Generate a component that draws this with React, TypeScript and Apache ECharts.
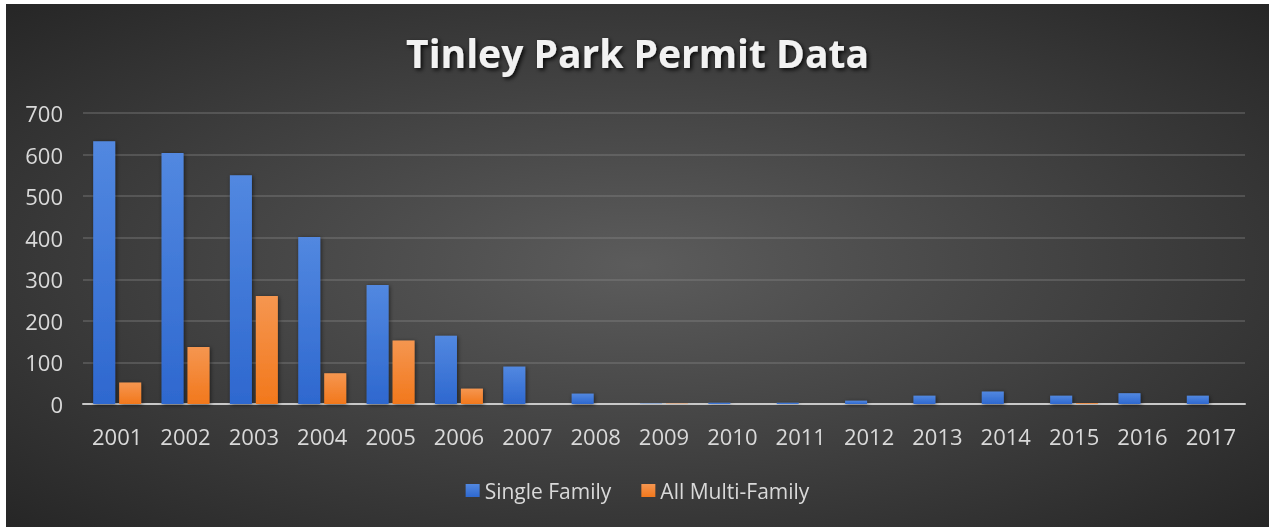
import React, { useEffect, useRef } from "react";
import * as echarts from "echarts";

const years = ["2001","2002","2003","2004","2005","2006","2007","2008","2009","2010","2011","2012","2013","2014","2015","2016","2017"];
const singleFamily = [632, 604, 550, 402, 286, 164, 90, 25, 1, 3, 3, 8, 20, 30, 20, 26, 20];
const multiFamily = [52, 137, 260, 74, 153, 37, 0, 0, 1, 0, 0, 0, 0, 0, 2, 0, 0];
const yTicks = { min: 0, max: 700, interval: 100 };

const FONT = "'Open Sans', 'Noto Sans', sans-serif";

export default function App() {
  const ref = useRef<HTMLDivElement>(null);
  useEffect(() => {
    const chart = echarts.init(ref.current!, null, { renderer: "svg" });
    const barShadow = { shadowBlur: 4, shadowColor: "rgba(0,0,0,0.55)", shadowOffsetX: 1, shadowOffsetY: 1 };
    chart.setOption({
      animation: false,
      backgroundColor: "transparent",
      title: {
        text: "Tinley Park Permit Data",
        left: "center",
        top: 24,
        textStyle: {
          color: "#f2f2f2",
          fontFamily: FONT,
          fontSize: 39,
          fontWeight: 700,
          textShadowColor: "rgba(0,0,0,0.85)",
          textShadowBlur: 4,
          textShadowOffsetX: 2,
          textShadowOffsetY: 2,
        },
      },
      legend: {
        bottom: 21,
        left: "center",
        itemWidth: 14,
        itemHeight: 13,
        itemGap: 30,
        icon: "rect",
        textStyle: { color: "#d9d9d9", fontFamily: FONT, fontSize: 21 },
        data: ["Single Family", "All Multi-Family"],
      },
      grid: { left: 77, right: 24, top: 109, bottom: 123, containLabel: false },
      xAxis: {
        type: "category",
        data: years,
        axisLine: { lineStyle: { color: "#c8c8c8", width: 2 } },
        axisTick: { show: false },
        axisLabel: { color: "#d9d9d9", fontFamily: FONT, fontSize: 22, margin: 21 },
      },
      yAxis: {
        type: "value",
        min: yTicks.min,
        max: yTicks.max,
        interval: yTicks.interval,
        axisLine: { show: false },
        axisTick: { show: false },
        axisLabel: { color: "#d9d9d9", fontFamily: FONT, fontSize: 22, margin: 20 },
        splitLine: { lineStyle: { color: "rgba(140,140,140,0.45)", width: 1.5 } },
      },
      series: [
        {
          name: "Single Family",
          type: "bar",
          data: singleFamily,
          barWidth: 22,
          barGap: "18%",
          itemStyle: {
            color: new echarts.graphic.LinearGradient(0, 0, 0, 1, [
              { offset: 0, color: "#5288e0" },
              { offset: 1, color: "#2e68cf" },
            ]),
            ...barShadow,
          },
        },
        {
          name: "All Multi-Family",
          type: "bar",
          data: multiFamily,
          barWidth: 22,
          itemStyle: {
            color: new echarts.graphic.LinearGradient(0, 0, 0, 1, [
              { offset: 0, color: "#f59650" },
              { offset: 1, color: "#f2781c" },
            ]),
            ...barShadow,
          },
        },
      ],
    });
    return () => chart.dispose();
  }, []);
  return (
    <div
      ref={ref}
      style={{
        position: "fixed",
        left: 6,
        top: 4,
        width: 1263,
        height: 523,
        background: "radial-gradient(ellipse at 50% 50%, #5c5c5c 0%, #444444 45%, #262626 100%)",
      }}
    />
  );
}
